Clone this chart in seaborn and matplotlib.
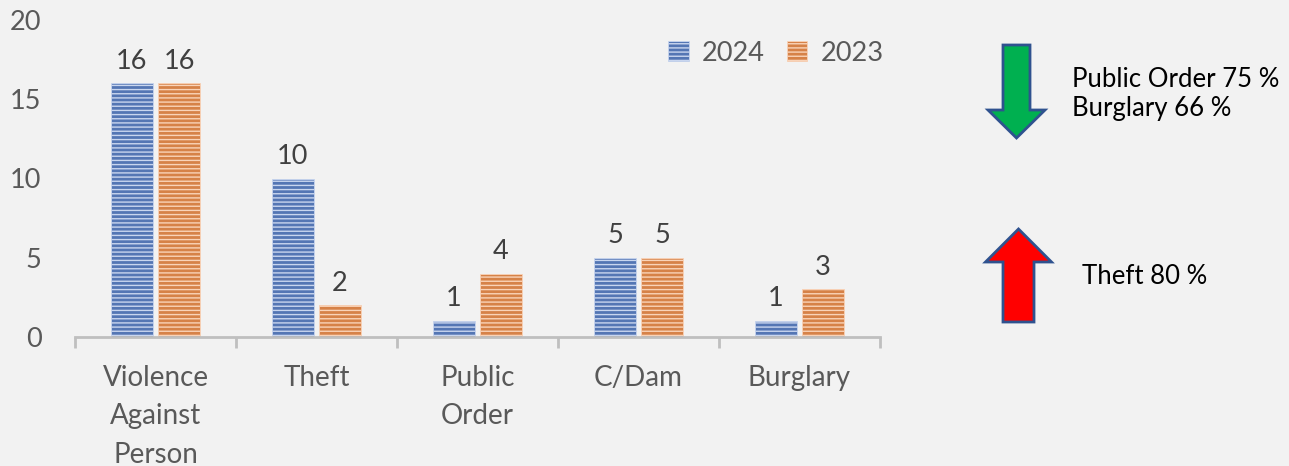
import matplotlib
matplotlib.use("Agg")
import matplotlib.pyplot as plt
from matplotlib.patches import FancyArrow
import seaborn as sns
import pandas as pd

# data
categories = ["Violence\nAgainst\nPerson", "Theft", "Public\nOrder", "C/Dam", "Burglary"]
years = ["2024", "2023"]
values_2024 = [16, 10, 1, 5, 1]
values_2023 = [16, 2, 4, 5, 3]

changes_down = ["Public Order 75 %", "Burglary 66 %"]
changes_up = ["Theft 80 %"]

bg = "#f2f2f2"
bar_colors = {"2024": "#4472c4", "2023": "#ed7d31"}
stripe_colors = {"2024": "#c9d6ef", "2023": "#f9d3b8"}

sns.set_style("white")
plt.rcParams["font.family"] = ["Lato", "DejaVu Sans"]
plt.rcParams["hatch.linewidth"] = 1.0

df = pd.DataFrame({
    "Category": categories * 2,
    "Year": [years[0]] * len(categories) + [years[1]] * len(categories),
    "Count": values_2024 + values_2023,
})

fig = plt.figure(figsize=(12.89, 4.66), dpi=100, facecolor=bg)
ax = fig.add_axes([75 / 1289, 129 / 466, 805 / 1289, 317 / 466])
ax.set_facecolor(bg)

sns.barplot(data=df, x="Category", y="Count", hue="Year", hue_order=years,
            palette=bar_colors, width=0.585, gap=0.12, legend=False, ax=ax)

# striped fill like the original
for cont, yr in zip(ax.containers, years):
    for bar in cont:
        bar.set_hatch("----")
        bar.set_edgecolor(stripe_colors[yr])
        bar.set_linewidth(0.6)
    ax.bar_label(cont, padding=7, fontsize=19.5, color="#404040")

ax.set_xlim(-0.5, 4.5)
ax.set_ylim(0, 20)
ax.set_yticks([0, 5, 10, 15, 20])
ax.set_xlabel("")
ax.set_ylabel("")

for side in ["left", "right", "top"]:
    ax.spines[side].set_visible(False)
ax.spines["bottom"].set_color("#bfbfbf")
ax.spines["bottom"].set_linewidth(2)

ax.set_xticks([-0.5, 0.5, 1.5, 2.5, 3.5, 4.5], minor=True)
ax.tick_params(axis="x", which="minor", bottom=True, length=8, width=2, color="#bfbfbf")
ax.tick_params(axis="x", which="major", length=0, pad=20, labelsize=20,
               labelcolor="#595959")
ax.tick_params(axis="y", length=0, pad=24, labelsize=19.5, labelcolor="#595959")
for lbl in ax.get_xticklabels():
    lbl.set_linespacing(1.6)

ax.legend(ax.containers, years, loc="center right", bbox_to_anchor=(1.035, 0.895),
          ncol=2, frameon=False, fontsize=19.5, labelcolor="#595959",
          handlelength=0.75, handleheight=0.75, handletextpad=0.5,
          columnspacing=0.8)

# arrows and notes on the right (pixel space overlay)
ov = fig.add_axes([0, 0, 1, 1])
ov.set_xlim(0, 1289)
ov.set_ylim(466, 0)
ov.axis("off")
ov.patch.set_visible(False)

ov.add_patch(FancyArrow(1016.5, 45, 0, 93, width=27, head_width=57, head_length=28,
                        length_includes_head=True, facecolor="#00b050",
                        edgecolor="#2f528f", linewidth=2))
ov.add_patch(FancyArrow(1018.5, 322, 0, -93, width=31, head_width=66, head_length=33,
                        length_includes_head=True, facecolor="#ff0000",
                        edgecolor="#2f528f", linewidth=2))

ov.text(1072, 94, "\n".join(changes_down), fontsize=18.5, color="black",
        va="center", ha="left", linespacing=1.2)
ov.text(1082, 276, changes_up[0], fontsize=18.5, color="black", va="center", ha="left")

fig.savefig("out.png", dpi=100, facecolor=bg)
